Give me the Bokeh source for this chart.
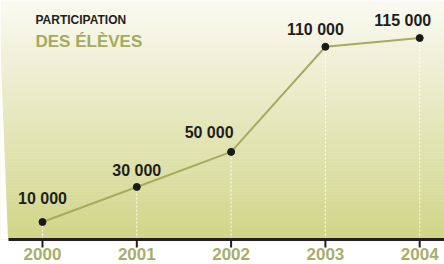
from bokeh.plotting import figure
from bokeh.models import Range1d
from bokeh.core.properties import value
from bokeh.embed import file_html
from bokeh.resources import INLINE

# ---- data ----
years = [2000, 2001, 2002, 2003, 2004]
participants = [10000, 30000, 50000, 110000, 115000]
value_labels = ["10 000", "30 000", "50 000", "110 000", "115 000"]
year_labels = ["2000", "2001", "2002", "2003", "2004"]
title_top = "PARTICIPATION"
title_bottom = "DES ÉLÈVES"

# ---- layout (pixels) ----
W, H = 444, 264
PX_PER_YEAR = 94.3
X_FIRST = 42
AXIS_Y = 239
PX_PER_K = 1.752
TXT_SHIFT = 6          # renderer draws alphabetic baseline a bit low
label_dx = [0, 0, -22, -10, -17]
label_dy = [-17, -10, -13, -11, -12]

x0 = years[0] - X_FIRST / PX_PER_YEAR
x1 = x0 + W / PX_PER_YEAR
y_top = AXIS_Y / PX_PER_K * 1000
y_bot = -(H - AXIS_Y) / PX_PER_K * 1000

def px_x(fx):
    return x0 + fx / PX_PER_YEAR

def px_y(fy):
    return y_top - fy / PX_PER_K * 1000

p = figure(width=W, height=H, x_range=Range1d(x0, x1), y_range=Range1d(y_bot, y_top),
           output_backend="svg", toolbar_location=None, min_border=0,
           background_fill_color="white", border_fill_color="white")
p.xaxis.visible = False
p.yaxis.visible = False
p.grid.visible = False
p.outline_line_color = None

# ---- background gradient (horizontal strips) ----
N = 80
top_c = (250, 250, 243)
bot_c = (209, 213, 136)
bottoms, tops, colors = [], [], []
for i in range(N):
    fy_a = AXIS_Y * i / N
    fy_b = AXIS_Y * (i + 1) / N
    t = ((fy_a + fy_b) / 2) / AXIS_Y
    c = tuple(int(round(top_c[k] + (bot_c[k] - top_c[k]) * t)) for k in range(3))
    tops.append(px_y(fy_a) + (5000 if i == 0 else 300))
    bottoms.append(px_y(fy_b))
    colors.append("#%02x%02x%02x" % c)
p.quad(left=x0, right=x1, bottom=bottoms, top=tops, fill_color=colors, line_color=None)

# white slanted wedge at the left edge
p.patch(x=[px_x(-10), px_x(-2), px_x(7.5), px_x(-10)],
        y=[px_y(-10), px_y(0), px_y(AXIS_Y), px_y(AXIS_Y)],
        fill_color="white", line_color=None)

# ---- dashed drop lines ----
p.segment(x0=years, y0=[0] * len(years), x1=years, y1=participants,
          line_color="white", line_width=1, line_dash="2 2")

# ---- axis ----
p.segment(x0=[px_x(8)], y0=[0], x1=[x1], y1=[0], line_color="#231f20", line_width=3)
tick_end = px_y(AXIS_Y + 8)
p.segment(x0=years, y0=[0] * len(years), x1=years, y1=[tick_end] * len(years),
          line_color="#231f20", line_width=2)
p.text(x=years, y=[0] * len(years), text=year_labels, text_align="center",
       text_baseline="alphabetic", y_offset=20 - TXT_SHIFT, text_color="#a9ad6b",
       text_font=value("Liberation Sans"), text_font_style="bold", text_font_size="17px")

# ---- line & points ----
p.line(years, participants, line_color="#a6ab5d", line_width=2)
p.scatter(years, participants, size=7, fill_color="#1a1a1a", line_color="#1a1a1a")
p.text(x=years, y=participants, text=value_labels, text_align="center",
       text_baseline="alphabetic", x_offset=label_dx,
       y_offset=[d - TXT_SHIFT for d in label_dy], text_color="#1e1e1e",
       text_font=value("Liberation Sans"), text_font_style="bold", text_font_size="16px")

# ---- title ----
p.text(x=[px_x(35)], y=[px_y(25 - TXT_SHIFT)], text=[title_top], text_align="left",
       text_baseline="alphabetic", text_color="#231f20",
       text_font=value("Liberation Sans"), text_font_style="bold", text_font_size="12px")
p.text(x=[px_x(35)], y=[px_y(47 - TXT_SHIFT)], text=[title_bottom], text_align="left",
       text_baseline="alphabetic", text_color="#a5aa5c",
       text_font=value("Liberation Sans"), text_font_style="bold", text_font_size="17px")

open("out.html", "w").write(file_html(p, INLINE))
